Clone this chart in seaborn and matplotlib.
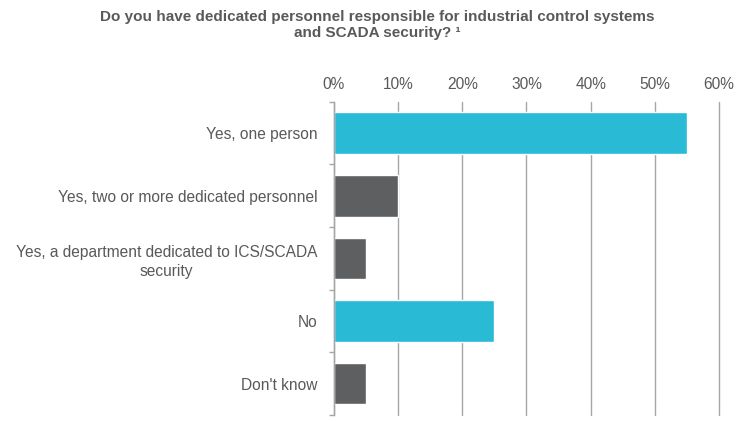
import matplotlib
matplotlib.use("Agg")
import matplotlib.pyplot as plt
import seaborn as sns
import pandas as pd
from matplotlib.ticker import FixedLocator, PercentFormatter

sns.set_theme(style="white")
plt.rcParams["font.family"] = ["Liberation Sans", "DejaVu Sans"]

categories = [
    "Yes, one person",
    "Yes, two or more dedicated personnel",
    "Yes, a department dedicated to ICS/SCADA\nsecurity",
    "No",
    "Don't know",
]
shares = [55, 10, 5, 25, 5]
bar_colors = ["#29BBD6", "#5E5F61", "#5E5F61", "#29BBD6", "#5E5F61"]
x_ticks = [0, 10, 20, 30, 40, 50, 60]

text_color = "#595959"
grid_color = "#A6A6A6"

df = pd.DataFrame({"category": categories, "share": shares})

fig = plt.figure(figsize=(7.46, 4.21), dpi=100)
ax = fig.add_axes([0.4477, 0.0143, 0.5161, 0.7441])

sns.barplot(
    data=df, x="share", y="category", hue="category",
    palette=bar_colors, width=0.665, legend=False, ax=ax, saturation=1,
)

ax.set_xlim(0, 60)
ax.set_ylim(len(categories) - 0.5, -0.5)
ax.xaxis.set_major_locator(FixedLocator(x_ticks))
ax.xaxis.set_major_formatter(PercentFormatter(decimals=0))
ax.xaxis.tick_top()
ax.xaxis.set_label_position("top")
ax.set_xlabel("")
ax.set_ylabel("")

ax.grid(axis="x", color=grid_color, linewidth=1)
for gl in ax.xaxis.get_gridlines():
    gl.set_clip_on(False)
ax.set_axisbelow(True)

for side in ["top", "right", "bottom"]:
    ax.spines[side].set_visible(False)
ax.spines["left"].set_color(grid_color)
ax.spines["left"].set_linewidth(1)

ax.tick_params(axis="x", length=0, pad=7, labelsize=11.2, labelcolor=text_color)
ax.tick_params(axis="y", which="major", length=0, pad=12, labelsize=11.2, labelcolor=text_color)
ax.set_yticks([i - 0.5 for i in range(len(categories) + 1)], minor=True)
ax.tick_params(axis="y", which="minor", length=3.5, color=grid_color, width=1, left=True)
for lbl in ax.get_yticklabels():
    lbl.set_horizontalalignment("right")
    lbl.set_multialignment("center")
    lbl.set_linespacing(1.35)

fig.text(
    0.506, 0.977,
    "Do you have dedicated personnel responsible for industrial control systems\nand SCADA security? \u00b9",
    ha="center", va="top", fontsize=11, fontweight="bold", color=text_color,
    linespacing=1.25,
)

fig.savefig("out.png", dpi=100)
